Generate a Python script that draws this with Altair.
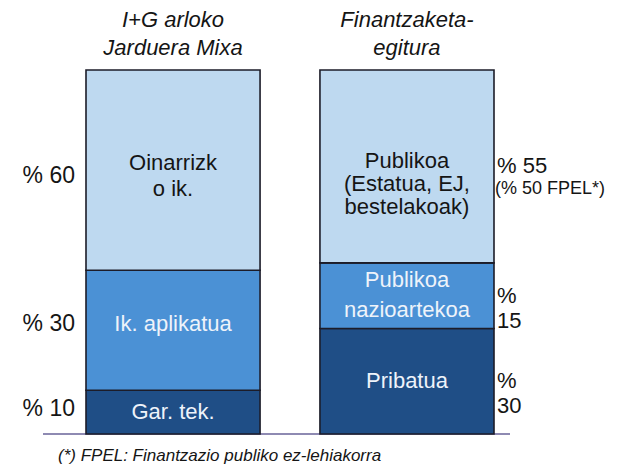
import altair as alt
import pandas as pd

# ---- data ----
bar_keys = ["A", "B"]
bar_titles = ["I+G arloko\nJarduera Mixa", "Finantzaketa-\negitura"]

seg_bar = ["A", "A", "A", "B", "B", "B"]
seg_order = [1, 2, 3, 1, 2, 3]
seg_shade = ["dark", "mid", "light", "dark", "mid", "light"]
seg_label = ["Gar. tek.", "Ik. aplikatua", "Oinarrizk\no ik.",
             "Pribatua", "Publikoa\nnazioartekoa", "Publikoa\n(Estatua, EJ,\nbestelakoak)"]
seg_value = [12, 33, 55, 29, 18, 53]          # drawn heights (share of bar)
seg_pct = ["% 10", "% 30", "% 60", "%\n30", "%\n15", "% 55"]
seg_note = ["", "", "", "", "", "(% 50 FPEL*)"]
footnote = "(*) FPEL: Finantzazio publiko ez-lehiakorra"

df = pd.DataFrame({"idx": list(range(len(seg_bar))), "bar": seg_bar, "ord": seg_order,
                   "shade": seg_shade, "label": seg_label, "value": seg_value,
                   "pct": seg_pct, "note": seg_note})
df = df.sort_values(["bar", "ord"])
df["end"] = df.groupby("bar")["value"].cumsum()
df["start"] = df["end"] - df["value"]
df["mid"] = (df["start"] + df["end"]) / 2

titles = pd.DataFrame({"bar": bar_keys, "title": bar_titles})

# ---- styling ----
FONT = "Liberation Sans"
INK = "#151515"
LIGHT_INK = "#eef3fa"
# per-segment text placement tweaks (dy, lineHeight) for label inside segment
seg_style = {0: (0, 22), 1: (-6, 22), 2: (-7, 26), 3: (0, 22), 4: (-16, 30), 5: (-5, 23)}
pct_style = {0: -3, 1: -6, 2: 6}

xs = alt.Scale(domain=bar_keys, range=[78, 486], paddingInner=0.256, paddingOuter=0)
ys = alt.Scale(domain=[0, 100], range=[426, 62])
cs = alt.Scale(domain=["light", "mid", "dark"], range=["#bed9f0", "#4b91d5", "#1f4e86"])

base = alt.Chart(df)
X = alt.X("bar:N", scale=xs, axis=None)
Y = alt.Y("mid:Q", scale=ys, axis=None)

layers = []

layers.append(alt.Chart(pd.DataFrame({"v": [0]})).mark_rule(
    color="#8e8ab2", strokeWidth=2).encode(
    y=alt.Y("v:Q", scale=ys, axis=None), x=alt.value(35), x2=alt.value(502)))

layers.append(base.mark_bar(stroke="#1c1c28", strokeWidth=1.6).encode(
    x=X,
    y=alt.Y("start:Q", scale=ys, axis=None),
    y2="end:Q",
    color=alt.Color("shade:N", scale=cs, legend=None),
))

txt_color = alt.condition(alt.datum.shade == "light", alt.value(INK), alt.value(LIGHT_INK))

for i, (dy, lh) in seg_style.items():
    layers.append(base.transform_filter(alt.datum.idx == i).mark_text(
        font=FONT, fontSize=22, lineBreak="\n", lineHeight=lh, baseline="middle", dy=dy).encode(
        x=X, y=Y, text="label:N", color=txt_color))

for i, dy in pct_style.items():
    layers.append(base.transform_filter(alt.datum.idx == i).mark_text(
        font=FONT, fontSize=23, align="right", baseline="middle", dx=-11, dy=dy, color=INK).encode(
        x=alt.X("bar:N", scale=xs, axis=None, bandPosition=0), y=Y, text="pct:N"))

layers.append(base.transform_filter(alt.datum.bar == "B").mark_text(
    font=FONT, fontSize=22, align="left", baseline="middle", dx=3, dy=0,
    lineBreak="\n", lineHeight=25, color=INK).encode(
    x=alt.X("bar:N", scale=xs, axis=None, bandPosition=1), y=Y, text="pct:N"))

layers.append(base.transform_filter(alt.datum.note != "").mark_text(
    font=FONT, fontSize=18, align="left", baseline="middle", dx=1, dy=23,
    color=INK).encode(
    x=alt.X("bar:N", scale=xs, axis=None, bandPosition=1), y=Y, text="note:N"))

layers.append(alt.Chart(titles).mark_text(
    font=FONT, fontSize=22, fontStyle="italic", lineBreak="\n", lineHeight=28,
    baseline="alphabetic", color=INK).encode(
    x=X, y=alt.value(19), text="title:N"))

layers.append(alt.Chart(pd.DataFrame({"t": [footnote]})).mark_text(
    font=FONT, fontSize=17, fontStyle="italic", align="left", baseline="alphabetic",
    color=INK).encode(x=alt.value(50), y=alt.value(453), text="t:N"))

chart = alt.layer(*layers).properties(
    width=608, height=458, autosize=alt.AutoSizeParams(type="none"), padding=0,
    background="#ffffff"
).configure_view(stroke=None)

chart.save("out.html", embed_options={"renderer": "svg", "actions": False})
